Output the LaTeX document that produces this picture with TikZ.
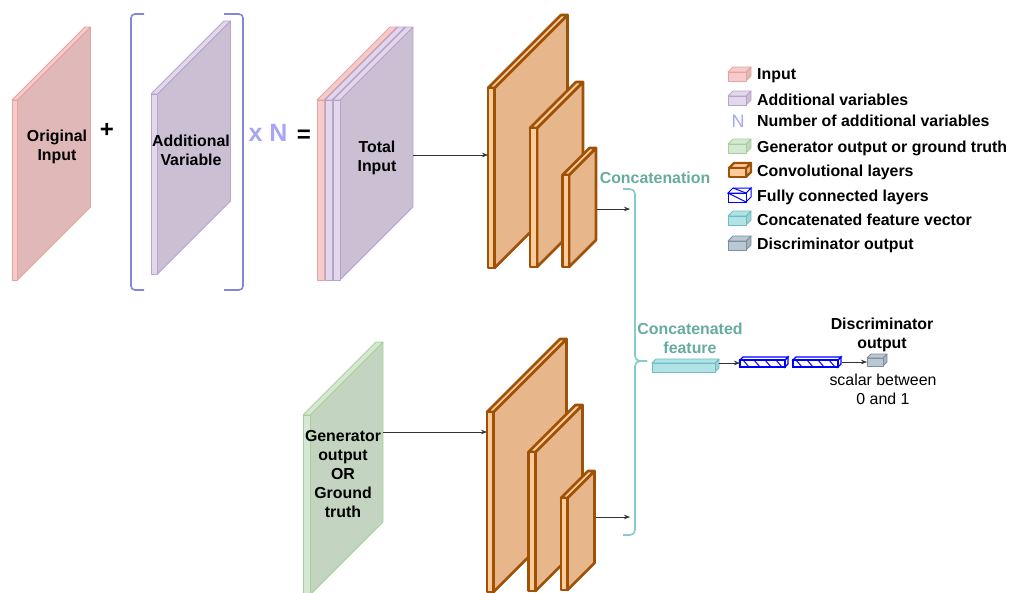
\documentclass[tikz,border=0pt]{standalone}
\usepackage{fontspec}
\setmainfont{Liberation Sans}
\usetikzlibrary{arrows.meta}
\definecolor{pinkF}{HTML}{F6CBCA}\definecolor{pinkS}{HTML}{DFB8B7}\definecolor{pinkD}{HTML}{E2A4A2}
\definecolor{lavF}{HTML}{E3D7EB}\definecolor{lavS}{HTML}{CBBFD3}\definecolor{lavD}{HTML}{B8A3CA}
\definecolor{greF}{HTML}{D5E8D4}\definecolor{greS}{HTML}{C3D5C0}\definecolor{greD}{HTML}{A9CF97}
\definecolor{conF}{HTML}{FFCC99}\definecolor{conS}{HTML}{E7B68A}\definecolor{conD}{HTML}{9E5208}
\definecolor{teaF}{HTML}{B0E3E6}\definecolor{teaS}{HTML}{9FD0D3}\definecolor{teaD}{HTML}{6DBDC2}
\definecolor{gryF}{HTML}{BAC8D3}\definecolor{gryS}{HTML}{A5B3BF}\definecolor{gryD}{HTML}{7F8F9E}
\definecolor{brk}{HTML}{8484DC}\definecolor{xn}{HTML}{A6A6F4}
\definecolor{teatext}{HTML}{67AB9F}\definecolor{brace}{HTML}{86CACB}
\definecolor{fcblue}{HTML}{0000FF}
% x y w h d frontfill sidefill stroke linewidth
\newcommand\myslab[9]{%
  \filldraw[fill=#7,draw=#8,line width=#9,line join=round] (#1+#3,#2) -- ++(#5,-#5) -- ++(0,#4) -- ++(-#5,#5) -- cycle;
  \filldraw[fill=#6,draw=#8,line width=#9,line join=round] (#1,#2) -- ++(#5,-#5) -- ++(#3,0) -- ++(-#5,#5) -- cycle;
  \filldraw[fill=#6,draw=#8,line width=#9,line join=round] (#1,#2) rectangle ++(#3,#4);
}
% fully connected layer at x
\newcommand\myfc[1]{%
  \filldraw[fill=white,draw=fcblue,line width=1.1] (#1+45,360) -- ++(3,-3) -- ++(0,7) -- ++(-3,3) -- cycle;
  \filldraw[fill=white,draw=fcblue,line width=1.1] (#1,360) -- ++(3,-3) -- ++(45,0) -- ++(-3,3) -- cycle;
  \filldraw[fill=white,draw=fcblue,line width=1.1] (#1,360) rectangle ++(45,7);
  \foreach \i in {0,1,2,3}{\draw[fcblue,line width=1] (#1+3+\i*11,360) -- ++(6,7);}
}
\tikzset{
  lbl/.style={font=\fontsize{15.9}{18.8}\selectfont\bfseries,align=center,inner sep=0},
  leg/.style={font=\fontsize{15.9}{18.8}\selectfont\bfseries,anchor=west,inner sep=0},
  reg/.style={font=\fontsize{15.9}{18.8}\selectfont,align=center,inner sep=0},
  tea/.style={lbl,text=teatext},
  arr/.style={draw=black!80,line width=0.6,-{Stealth[length=6pt,width=4.5pt]}},
}
\begin{document}
\begin{tikzpicture}[x=1pt,y=-1pt]
\useasboundingbox (0,0) rectangle (1009,592);
\clip (0,0) rectangle (1009,592);
% Original input
\myslab{12}{100}{5.5}{180}{73}{pinkF}{pinkS}{pinkD}{0.8}
\node[lbl] (orig) at (57,147) {Original\\Input};
\node[font=\fontsize{24}{24}\selectfont\bfseries,inner sep=0] (plus) at (107,130) {+};
% Additional variable with bracket
\draw[brk,line width=1.6,rounded corners=4] (144,14) -- (131,14) -- (131,290) -- (144,290);
\draw[brk,line width=1.6,rounded corners=4] (224,14) -- (243,14) -- (243,290) -- (224,290);
\myslab{151}{94}{6.5}{180}{73}{lavF}{lavS}{lavD}{0.8}
\node[lbl] (addv) at (191,150.5) {Additional\\Variable};
\node[font=\fontsize{25}{25}\selectfont\bfseries,text=xn,inner sep=0] (xN) at (268,133) {x N};
\node[font=\fontsize{24}{24}\selectfont\bfseries,inner sep=0] (eq) at (304,136) {=};
% Total input
\myslab{317}{100}{7}{180}{73}{pinkF}{pinkS}{pinkD}{0.8}
\myslab{325}{100}{7}{180}{73}{lavF}{lavS}{lavD}{0.8}
\myslab{333}{100}{7}{180}{73}{lavF}{lavS}{lavD}{0.8}
\node[lbl] (tot) at (377,158) {Total\\Input};
% top conv stack
\myslab{488}{88}{6.5}{180}{73}{conF}{conS}{conD}{2.6}
\myslab{530}{128}{7}{139}{46}{conF}{conS}{conD}{2.6}
\myslab{562.5}{175}{6.5}{92}{27}{conF}{conS}{conD}{2.6}
% bottom: generator output
\myslab{303}{415}{7}{180}{73}{greF}{greS}{greD}{0.8}
\node[lbl] (gen) at (343,474) {Generator\\output\\OR\\Ground\\truth};
% bottom conv stack
\myslab{487}{412}{6.5}{180}{73}{conF}{conS}{conD}{2.6}
\myslab{528.5}{452}{7}{139}{47}{conF}{conS}{conD}{2.6}
\myslab{561}{498}{6.5}{92}{27}{conF}{conS}{conD}{2.6}
% arrows
\coordinate (tot-e) at (413,155);
\coordinate (c1-w) at (488,155);
\coordinate (c3-e) at (597,209);
\coordinate (br-t) at (630,209);
\coordinate (gen-e) at (383,432);
\coordinate (d1-w) at (487,432);
\coordinate (d3-e) at (596,517);
\coordinate (br-b) at (630,517);
\draw[arr] (tot-e) -- (c1-w);
\draw[arr] (c3-e) -- (br-t);
\draw[arr] (gen-e) -- (d1-w);
\draw[arr] (d3-e) -- (br-b);
% brace
\draw[brace,line width=1.6,rounded corners=5] (623,189) -- (635,189) -- (635,361) -- (647,361);
\draw[brace,line width=1.6,rounded corners=5] (647,361) -- (635,361) -- (635,535) -- (623,535);
\node[tea] (concat) at (655,178) {Concatenation};
\node[tea] (cfeat) at (690,338) {Concatenated\\feature};
% feature vector, FC layers, output
\myslab{652}{363}{63}{9}{4}{teaF}{teaS}{teaD}{0.8}
\myfc{740}
\myfc{793}
\myslab{867}{358}{16}{8}{4}{gryF}{gryS}{gryD}{0.8}
\coordinate (fv-e) at (719,363);
\coordinate (fc1-w) at (740,363);
\coordinate (fc2-e) at (842,362);
\coordinate (out-w) at (867,362);
\draw[arr] (fv-e) -- (fc1-w);
\draw[arr] (fc2-e) -- (out-w);
\node[lbl] (dout) at (882,335) {Discriminator\\output};
\node[reg] (scal) at (883,389.5) {scalar between\\0 and 1};
% legend
\myslab{728}{72}{18}{9}{5}{pinkF}{pinkS}{pinkD}{0.8}
\node[leg] (l1) at (757,76) {Input};
\myslab{728}{96}{18}{9}{5}{lavF}{lavS}{lavD}{0.8}
\node[leg] (l2) at (757,100) {Additional variables};
\node[font=\fontsize{18}{18}\selectfont,text=xn,inner sep=0] (lN) at (738,121) {N};
\node[leg] (l3) at (757,121) {Number of additional variables};
\myslab{728}{144}{18}{9}{5}{greF}{greS}{greD}{0.8}
\node[leg] (l4) at (757,148) {Generator output or ground truth};
\myslab{729}{168}{17}{9}{5}{conF}{conS}{conD}{2.2}
\node[leg] (l5) at (757,172) {Convolutional layers};
\filldraw[fill=white,draw=fcblue,line width=1] (746,193) -- ++(5,-5) -- ++(0,9) -- ++(-5,5) -- cycle;
\filldraw[fill=white,draw=fcblue,line width=1] (728,193) -- ++(5,-5) -- ++(18,0) -- ++(-5,5) -- cycle;
\filldraw[fill=white,draw=fcblue,line width=1] (728,193) rectangle ++(18,9);
\draw[fcblue,line width=1] (728,193) -- (746,202) (733,188) -- (746,193);
\node[leg] (l6) at (757,197) {Fully connected layers};
\myslab{728}{216}{18}{9}{5}{teaF}{teaS}{teaD}{0.8}
\node[leg] (l7) at (757,220) {Concatenated feature vector};
\myslab{728}{241}{18}{9}{5}{gryF}{gryS}{gryD}{0.8}
\node[leg] (l8) at (757,245) {Discriminator output};
\end{tikzpicture}
\end{document}
